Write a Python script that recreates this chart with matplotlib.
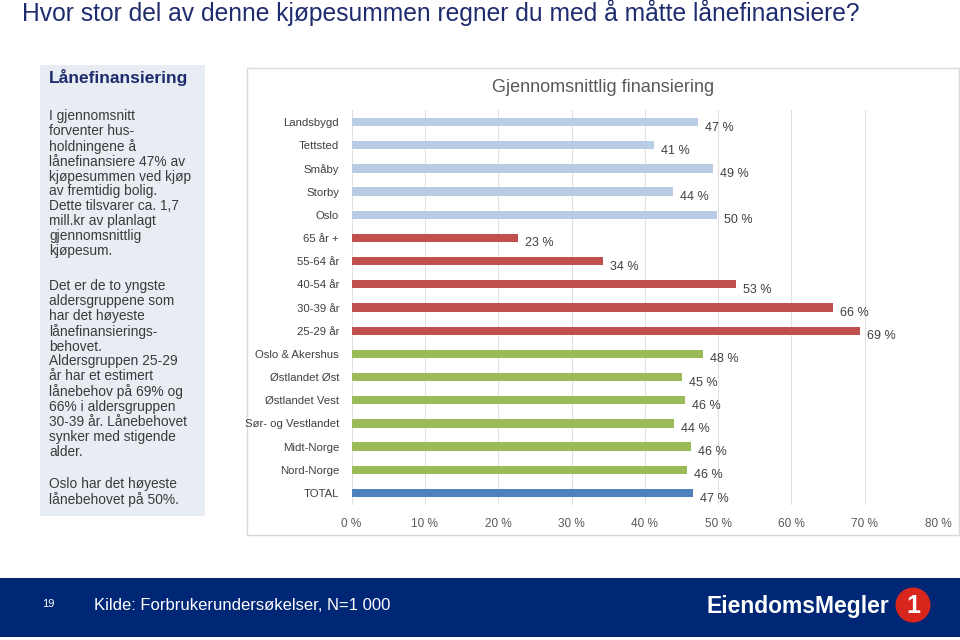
import matplotlib.pyplot as plt
from matplotlib.patches import Rectangle, Ellipse
import numpy as np

categories = ['Landsbygd', 'Tettsted', 'Småby', 'Storby', 'Oslo',
              '65 år +', '55-64 år', '40-54 år', '30-39 år', '25-29 år',
              'Oslo & Akershus', 'Østlandet Øst', 'Østlandet Vest',
              'Sør- og Vestlandet', 'Midt-Norge', 'Nord-Norge', 'TOTAL']
values = [47.2, 41.3, 49.3, 43.8, 49.9,
          22.7, 34.3, 52.5, 65.7, 69.4,
          48.0, 45.1, 45.5, 44.0, 46.3, 45.7, 46.6]
labels = [47, 41, 49, 44, 50, 23, 34, 53, 66, 69, 48, 45, 46, 44, 46, 46, 47]
groups = ['bosted'] * 5 + ['alder'] * 5 + ['region'] * 6 + ['total']
group_colors = {'bosted': '#B9CDE5', 'alder': '#C0504D',
                'region': '#9BBB59', 'total': '#4F81BD'}
xticks = [0, 10, 20, 30, 40, 50, 60, 70, 80]

title = 'Hvor stor del av denne kjøpesummen regner du med å måtte lånefinansiere?'
box_head = 'Lånefinansiering'
para1 = ('I gjennomsnitt\nforventer hus-\nholdningene å\nlånefinansiere 47% av\n'
         'kjøpesummen ved kjøp\nav fremtidig bolig.\nDette tilsvarer ca. 1,7\n'
         'mill.kr av planlagt\ngjennomsnittlig\nkjøpesum.')
para2 = ('Det er de to yngste\naldersgruppene som\nhar det høyeste\n'
         'lånefinansierings-\nbehovet.\nAldersgruppen 25-29\når har et estimert\n'
         'lånebehov på 69% og\n66% i aldersgruppen\n30-39 år. Lånebehovet\n'
         'synker med stigende\nalder.')
para3 = 'Oslo har det høyeste\nlånebehovet på 50%.'

sans = ['Liberation Sans', 'DejaVu Sans']
narrow = ['Liberation Sans Narrow', 'Liberation Sans', 'DejaVu Sans']
W, H = 960, 640

fig = plt.figure(figsize=(9.6, 6.4), dpi=100)
fig.patch.set_facecolor('white')

def fx(px):
    return px / W

def fy(py):
    return 1 - py / H

# slide title
fig.text(fx(22), fy(13), title, family=sans, fontsize=17.7, color='#1F2C6E',
         va='center', ha='left')

# left text box
fig.patches.append(Rectangle((fx(40), fy(516)), fx(205) - fx(40), fy(65) - fy(516),
                             transform=fig.transFigure, facecolor='#E8EDF4',
                             edgecolor='none', zorder=0))
fig.text(fx(49), fy(77), box_head, family=sans, fontsize=12.5, fontweight='bold',
         color='#1F2C6E', va='center')
for txt, top in [(para1, 109), (para2, 279), (para3, 477)]:
    fig.text(fx(49), fy(top), txt, family=sans, fontsize=9.9, color='#3A3A3A',
             va='top', ha='left', linespacing=1.08)

# chart frame
fig.patches.append(Rectangle((fx(247), fy(535)), fx(959) - fx(247), fy(68) - fy(535),
                             transform=fig.transFigure, facecolor='white',
                             edgecolor='#D9D9D9', linewidth=1, zorder=0))
fig.text(fx(603), fy(87), 'Gjennomsnittlig finansiering', family=narrow,
         fontsize=13, color='#595959', ha='center', va='center')

ax = fig.add_axes([fx(351.6), fy(504.6), fx(938) - fx(351.6), fy(110.4) - fy(504.6)])
ax.set_zorder(3)
y = np.arange(len(categories))
colors = [group_colors[g] for g in groups]
bars = ax.barh(y, values, height=0.36, color=colors, zorder=3)
ax.set_ylim(len(categories) - 0.5, -0.5)
ax.set_xlim(0, 80)
ax.set_yticks(y)
ax.set_yticklabels(categories, family=narrow, fontsize=8.2, color='#404040')
ax.set_xticks(xticks)
ax.set_xticklabels([f'{t} %' for t in xticks], family=narrow, fontsize=8.5,
                   color='#595959')
ax.tick_params(length=0, pad=10)
ax.tick_params(axis='y', pad=9)
ax.grid(axis='x', color='#E0E0E0', linewidth=0.8, zorder=0)
for s in ax.spines.values():
    s.set_visible(False)
ax.set_facecolor('none')

for bar, lab in zip(bars, labels):
    ax.annotate(f'{lab} %', xy=(bar.get_width(), bar.get_y() + bar.get_height() / 2),
                xytext=(5, -4), textcoords='offset points', ha='left', va='center',
                family=narrow, fontsize=9, color='#404040')

# footer
fig.patches.append(Rectangle((0, fy(637)), 1, fy(578) - fy(637),
                             transform=fig.transFigure, facecolor='#002776',
                             edgecolor='none', zorder=0))
fig.text(fx(42), fy(604), '19', family=sans, fontsize=8, color='white', va='center')
fig.text(fx(94), fy(606), 'Kilde: Forbrukerundersøkelser, N=1 000', family=sans,
         fontsize=12, color='white', va='center')
fig.text(fx(706), fy(607), 'EiendomsMegler', family=narrow, fontsize=16.5,
         fontweight='bold', color='white', va='center')
fig.patches.append(Ellipse((fx(913), fy(605)), fx(35), 35 / H,
                           transform=fig.transFigure, facecolor='#D9261C',
                           edgecolor='none', zorder=1))
fig.text(fx(913), fy(606), '1', family=sans, fontsize=18, fontweight='bold',
         color='white', ha='center', va='center', zorder=2)

fig.savefig('out.png', dpi=100)
